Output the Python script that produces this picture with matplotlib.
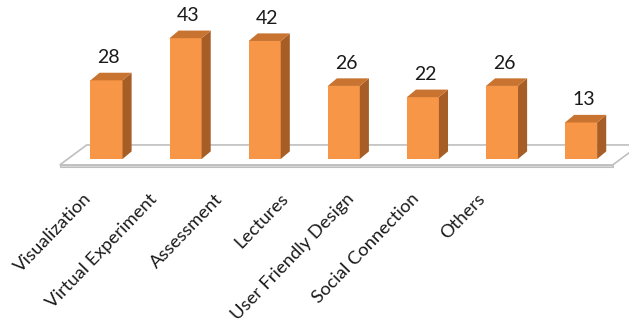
import numpy as np
import matplotlib.pyplot as plt
from matplotlib.patches import Polygon

categories = ['Visualization', 'Virtual Experiment', 'Assessment', 'Lectures',
              'User Friendly Design', 'Social Connection', 'Others']
counts = [28, 43, 42, 26, 22, 26, 13]

plt.rcParams['font.family'] = ['Lato', 'DejaVu Sans']

front = '#F79646'
side = '#A65E26'
top = '#C8732F'

fig = plt.figure(figsize=(6.29, 3.33), dpi=100)
# axes: x=0 at 106.5px, 79.1px per bar ; y=0 at 159px from top, 2.81px per unit
x0, dx = 106.5, 79.1
y0, dy = 159.0, 2.81
xlim = (-1.2, 7.2)
ylim = (-6.0, 50.0)
left = (x0 + xlim[0] * dx) / 629
width = (xlim[1] - xlim[0]) * dx / 629
bottom = (333 - (y0 - ylim[0] * dy)) / 333
height = (ylim[1] - ylim[0]) * dy / 333
ax = fig.add_axes([left, bottom, width, height])
ax.set_xlim(*xlim)
ax.set_ylim(*ylim)
ax.axis('off')

x = np.arange(len(categories))
bw = 0.405          # bar width in x units
ddx, ddy = 0.115, 2.7  # depth offset of the bars

# floor slab
fl, fr = -0.59, 6.40
bdx, bdy = 0.34, 7.1
yf = -2.1
ax.add_patch(Polygon([(fl, yf - 0.7), (fr, yf - 0.7), (fr, yf), (fl, yf)],
                     closed=True, facecolor='#d9d9d9', edgecolor='#bfbfbf', lw=0.8))
ax.add_patch(Polygon([(fl, yf), (fr, yf), (fr + bdx, yf + bdy), (fl + bdx, yf + bdy)],
                     closed=True, facecolor='white', edgecolor='#bfbfbf', lw=1.2))

# bars: front face via bar(), side and top faces as polygons
ax.bar(x, counts, width=bw, color=front, zorder=3)
for xi, v in zip(x, counts):
    r = xi + bw / 2
    l = xi - bw / 2
    ax.add_patch(Polygon([(r, 0), (r + ddx, ddy), (r + ddx, v + ddy), (r, v)],
                         closed=True, facecolor=side, edgecolor='none', zorder=3))
    ax.add_patch(Polygon([(l, v), (r, v), (r + ddx, v + ddy), (l + ddx, v + ddy)],
                         closed=True, facecolor=top, edgecolor='none', zorder=3))
    ax.text(xi + 0.03, v + ddy + 2.4, str(v), ha='center', va='bottom',
            fontsize=14, color='#1a1a1a')

# category labels (perspective: label spacing is narrower than bars)
for i, name in enumerate(categories):
    ax.text(-0.22 + 0.828 * i, -13.2, name, rotation=46, rotation_mode='anchor',
            ha='right', va='center', fontsize=13.2, color='#1a1a1a', clip_on=False)

plt.savefig('out.png', dpi=100)
